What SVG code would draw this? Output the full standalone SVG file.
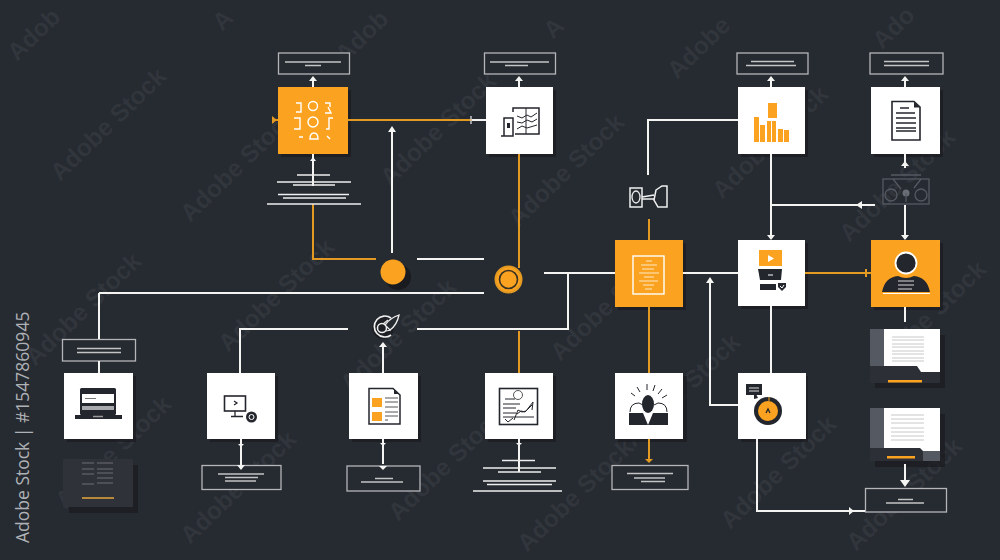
<svg xmlns="http://www.w3.org/2000/svg" width="1000" height="560" viewBox="0 0 1000 560">
<style>
.wm{font-family:"Liberation Sans",Arial,sans-serif;font-weight:700;font-size:24.500px;fill:#31353c}
.w{fill:none;stroke:#f4f4f2;stroke-width:2}
.o{fill:none;stroke:#e39a22;stroke-width:2}
.box{fill:#262a31;stroke:#b5b6b8;stroke-width:1.3}
.tl{stroke:#c4c4c4;stroke-width:1.3;fill:none}
.tlw{stroke:#eeeeee;stroke-width:1.5;fill:none}
.card{fill:#fff}
.org{fill:#fba320}
.sh{fill:#191b20;opacity:.7}
.ik{fill:none;stroke:#23262d;stroke-width:1.5}
.ikt{fill:none;stroke:#23262d;stroke-width:1}
.ikw{fill:none;stroke:#fff;stroke-width:1.4}
.dk{fill:#23262d}
.pn{fill:#2c2f36}
.hw{fill:#f4f4f2}
.ho{fill:#e39a22}
</style>
<rect width="1000" height="560" fill="#262a31"/>
<g id="watermarks">
<text class="wm" transform="translate(60 182) rotate(-44)">Adobe Stock</text>
<text class="wm" transform="translate(190 223) rotate(-44)">Adobe Stock</text>
<text class="wm" transform="translate(390 187) rotate(-44)">Adobe Stock</text>
<text class="wm" transform="translate(518 228) rotate(-44)">Adobe Stock</text>
<text class="wm" transform="translate(722 200) rotate(-44)">Adobe Stock</text>
<text class="wm" transform="translate(849 243) rotate(-44)">Adobe Stock</text>
<text class="wm" transform="translate(35 367) rotate(-44)">Adobe Stock</text>
<text class="wm" transform="translate(228 353) rotate(-44)">Adobe Stock</text>
<text class="wm" transform="translate(350 393) rotate(-44)">Adobe Stock</text>
<text class="wm" transform="translate(560 362) rotate(-44)">Adobe Stock</text>
<text class="wm" transform="translate(634 448) rotate(-44)">Adobe Stock</text>
<text class="wm" transform="translate(880 375) rotate(-44)">Adobe Stock</text>
<text class="wm" transform="translate(65 510) rotate(-44)">Adobe Stock</text>
<text class="wm" transform="translate(190 545) rotate(-44)">Adobe Stock</text>
<text class="wm" transform="translate(398 522) rotate(-44)">Adobe Stock</text>
<text class="wm" transform="translate(527 553) rotate(-44)">Adobe Stock</text>
<text class="wm" transform="translate(730 530) rotate(-44)">Adobe Stock</text>
<text class="wm" transform="translate(856 552) rotate(-44)">Adobe Stock</text>
<text class="wm" transform="translate(17 62) rotate(-44)">Adob</text>
<text class="wm" transform="translate(222 32) rotate(-44)">A</text>
<text class="wm" transform="translate(345 64) rotate(-44)">Adob</text>
<text class="wm" transform="translate(553 40) rotate(-44)">A</text>
<text class="wm" transform="translate(677 80) rotate(-44)">Adobe</text>
<text class="wm" transform="translate(882 50) rotate(-44)">Ado</text>
</g>
<text transform="translate(29 543) rotate(-90)" font-family="'Open Sans','Noto Sans',sans-serif" font-size="17.500" fill="#aeb1b5">Adobe Stock | #1547860945</text>

<g id="label-1"><rect class="box" x="278.500" y="53" width="71" height="21"/><path class="tl" d="M285 62H341M305 65.500H321"/></g>
<g id="label-2"><rect class="box" x="484.500" y="53" width="71" height="21"/><path class="tl" d="M490 62H549M505 65.500H528"/></g>
<g id="label-3"><rect class="box" x="737" y="53" width="71" height="21"/><path class="tl" d="M751 61.500H794M746 65.500H796"/></g>
<g id="label-4"><rect class="box" x="870" y="53" width="73" height="21"/><path class="tl" d="M884 61.500H929M884 65.500H929"/></g>
<g id="label-5"><rect class="box" x="62.500" y="339.500" width="73" height="21.500"/><path class="tl" d="M77 348.500H121M77 352.500H121"/></g>
<g id="label-6"><rect class="box" x="202" y="465.500" width="79" height="24"/><path class="tl" d="M218 474H264M225 477.500H258M225 481H256"/></g>
<g id="label-7"><rect class="box" x="347" y="466" width="73" height="25"/><path class="tl" d="M375 478.500H393M361 482H403"/></g>
<g id="label-8"><rect class="box" x="612" y="465.500" width="76" height="24"/><path class="tl" d="M627 473.500H673M634 478H665M641 481.500H665"/></g>
<g id="label-9"><rect class="box" x="865.500" y="488.500" width="81" height="23.500"/><path class="tl" d="M898 499.500H913M886 503H924"/></g>

<g id="node-data">
<rect class="sh" x="281" y="90" width="70" height="67"/><rect class="org" x="278" y="87" width="70" height="67"/>
<g class="ikw"><circle cx="313" cy="106" r="4.500"/><circle cx="313" cy="122" r="5"/><path d="M296 103h5v9h-5M294 118h6v11h-6M325 103h5v4M325 113h6l-3-6M333 118h-4v11h-3M310 139q0-6 4-6t4 6zM299 137h4M327 136l3 3"/></g>
</g>
<g id="node-workflow">
<rect class="sh" x="489" y="90" width="67" height="67"/><rect class="card" x="486" y="87" width="67" height="67"/>
<path class="ik" d="M501 136H513V118H504V136M513 112V108H539V134H515"/><path class="ikt" d="M526 108V134M517 116l5 2 5-3 4 2 6-4M517 122l5 1 5-3 5 2 5-3M517 129l5-3 5 2 10-3"/><rect class="dk" x="507" y="123" width="3" height="5"/>
</g>
<g id="node-chart">
<rect class="sh" x="741" y="90" width="67" height="67"/><rect class="card" x="738" y="87" width="67" height="67"/>
<path class="org" d="M754 117h5v25h-5zM760 125h5v17h-5zM767 121h4v21h-4zM772 121h4v21h-4zM778 129h5v13h-5zM784 130h5v12h-5z"/>
<rect class="org" x="768" y="103" width="9" height="15"/>
</g>
<g id="node-document">
<rect class="sh" x="874" y="90" width="69" height="67"/><rect class="card" x="871" y="87" width="69" height="67"/>
<path d="M892 101.500H914L920 107V140H892Z" fill="#fff" stroke="#23262d" stroke-width="1.600"/><path class="dk" d="M914 101.500l6 6h-6z"/>
<path class="ikt" d="M900 108H909M896 113H915M896 118H916M896 123H916M896 128H916M896 131H916" style="stroke-width:1.300"/>
</g>
<g id="node-report">
<rect class="sh" x="618" y="243" width="68" height="67"/><rect class="org" x="615" y="240" width="68" height="67"/>
<rect class="ikw" x="633" y="256" width="31" height="38"/>
<path d="M646 261H652M641 265H657M642 269H654M639 273H659M644 277H654M639 281H658M643 285H654M645 289H652" fill="none" stroke="#ffe9c4" stroke-width="1"/>
</g>
<g id="node-video">
<rect class="sh" x="741" y="243" width="67" height="66"/><rect class="card" x="738" y="240" width="67" height="66"/>
<rect class="org" x="759" y="250" width="23" height="16"/><path fill="#fff" d="M768 255v7l6-3.500z"/>
<path class="dk" d="M758 269H782L781 280H760Z"/><rect class="dk" x="760" y="284" width="16" height="6"/><path stroke="#fff" d="M768 275H773"/>
<path class="dk" d="M778 283h8v4l-4 4-4-4z"/><path d="M780 286l2 2 2-3" stroke="#fff" fill="none" stroke-width="1"/>
</g>
<g id="node-person">
<rect class="sh" x="874" y="243" width="69" height="67"/><rect class="org" x="871" y="240" width="69" height="67"/>
<circle cx="906" cy="263" r="10.500" fill="#23262d" stroke="#fff" stroke-width="1.800"/>
<path class="dk" d="M882 292Q885 277 898 276Q906 280 914 276Q927 277 930 292Z"/><path d="M883 293.500H930" stroke="#fff" stroke-width="1.200"/>
<path stroke="#d9d9d9" stroke-width="1" fill="none" d="M898 281H914M898 285H914M898 289H912"/>
</g>
<g id="node-laptop">
<rect class="sh" x="67" y="376" width="69" height="66"/><rect class="card" x="64" y="373" width="69" height="66"/>
<rect class="dk" x="80" y="388" width="36" height="27" rx="1.500"/><rect fill="#fff" x="82" y="394" width="32" height="9"/><rect fill="#a7a9ac" x="82" y="406" width="32" height="4"/><path class="dk" d="M75 415H122V419H75Z"/><path d="M85 398.500H96" stroke="#777" stroke-width="1"/><path d="M93 416.500H103" stroke="#999" stroke-width="1.500"/>
</g>
<g id="node-terminal">
<rect class="sh" x="210" y="376" width="68" height="66"/><rect class="card" x="207" y="373" width="68" height="66"/>
<rect x="224.500" y="396" width="21" height="15" fill="#fff" stroke="#23262d" stroke-width="1.600"/><path class="ikt" d="M234 401l3 2-3 2M235 411V416M231 416.500H243" style="stroke-width:1.300"/><circle cx="251.500" cy="417" r="5.500" class="dk"/><circle cx="251.500" cy="417" r="2.500" fill="none" stroke="#fff" stroke-width="1"/>
</g>
<g id="node-form">
<rect class="sh" x="352" y="376" width="69" height="66"/><rect class="card" x="349" y="373" width="69" height="66"/>
<path d="M369 388.500H393L400 395V424H369Z" fill="#fff" stroke="#23262d" stroke-width="1.500"/>
<rect class="org" x="372" y="398" width="10" height="9"/><rect class="org" x="372" y="412" width="10" height="9"/>
<path fill="none" stroke="#555" stroke-width="1" d="M385 398H398M385 402H398M385 407H398M385 412H398M385 416H398M385 420H388"/><path class="dk" d="M394 389l5 5h-5z"/>
</g>
<g id="node-analytics">
<rect class="sh" x="488" y="376" width="68" height="66"/><rect class="card" x="485" y="373" width="68" height="66"/>
<rect x="499.500" y="388.500" width="38" height="36" fill="#fff" stroke="#23262d" stroke-width="1.600"/>
<circle cx="518" cy="395" r="4.500" fill="#fff" stroke="#555" stroke-width="1"/>
<path class="ikt" d="M505 399H515M503 404H520M503 408H516M503 413H516M503 417H534M505 419l3 3 5-4M514 420l4-10 4 2 4-1 7-9-1 8M517 414l4-3 4 1 7-7"/>
</g>
<g id="node-leader">
<rect class="sh" x="618" y="376" width="69" height="66"/><rect class="card" x="615" y="373" width="68" height="66"/>
<path class="dk" d="M629 413H643L648 425L653 413H668V425H629Z"/><ellipse class="dk" cx="648" cy="404" rx="6" ry="9"/>
<path d="M630 412Q630 403 639 403L643 405M667 412Q667 403 658 403L654 405M635 396l-4-3M640 392l-3-5M647 390v-6M653 391l2-6M658 394l4-5M662 398l5-3" fill="none" stroke="#23262d" stroke-width="1"/>
</g>
<g id="node-target">
<rect class="sh" x="741" y="376" width="67" height="66"/><rect class="card" x="738" y="373" width="68" height="66"/>
<rect class="dk" x="746" y="384" width="16" height="11"/><path stroke="#ddd" stroke-width="1" d="M749 388H759M749 391H759"/><path class="dk" d="M754 394v5l4-1-2-4z"/>
<circle cx="768" cy="411" r="14" class="dk"/><circle cx="768" cy="411" r="10" class="org"/><path stroke="#23262d" stroke-width="1.300" fill="none" d="M766 413l2-4 2 4"/><path stroke="#fba320" stroke-width="1" d="M769 397V401"/>
</g>
<g id="node-ring">
<circle cx="508.500" cy="279.500" r="13" fill="#fba320" stroke="#e39a22" stroke-width="2"/><circle cx="508.500" cy="279.500" r="9" fill="#fba320" stroke="#3a3224" stroke-width="1.600"/>
</g>
<g id="node-dot">
<circle cx="398" cy="277" r="13" fill="#191b20"/><circle cx="393" cy="272" r="12.500" class="org"/>
</g>
<g id="icon-rocket">
<circle cx="383" cy="328" r="11" fill="#1d1f24"/><path fill="none" stroke="#efefef" stroke-width="1.700" d="M391 318A10.500 10.500 0 1 0 391 335"/><circle cx="382" cy="328" r="4.500" fill="none" stroke="#efefef" stroke-width="1.500"/><path fill="#262a31" stroke="#efefef" stroke-width="1.300" d="M385 325Q390 318 399 315Q397 325 390 330Z"/><path fill="none" stroke="#efefef" stroke-width="1.200" d="M386 331l5-1M383 324l5-4"/>
</g>
<g id="icon-link">
<path fill="none" stroke="#f0f0f0" stroke-width="1.500" d="M630 188H642V207H630ZM656 190L662 186H667V207H658L654 200ZM642 197L654 195M642 199H655"/><ellipse cx="636" cy="197" rx="4" ry="6" fill="none" stroke="#f0f0f0" stroke-width="1.300"/>
</g>
<g id="icon-gear" fill="none" stroke="#555962" stroke-width="1.300">
<rect x="883" y="179" width="46" height="25"/><circle cx="891" cy="195" r="6"/><circle cx="921" cy="195" r="6"/><path d="M893 179l8 10M921 179l-7 9M891 175H921"/><circle cx="906" cy="193" r="3.500" fill="#6a6e76" stroke="none"/><path d="M906 193v9"/>
</g>
<g id="node-doc-a">
<rect class="sh" x="875" y="335" width="70" height="53"/><rect fill="#555962" x="870" y="329" width="14" height="38"/><rect fill="#fff" x="884" y="329" width="56" height="43"/><path class="pn" d="M870 366H917L921 372H940V383H870Z"/>
<path stroke="#c8c8c8" stroke-width="1" d="M892 337H924M892 340H924M892 344H924M892 347H924M892 351H924M892 354H924M892 358H924M892 361H924"/>
<rect class="org" x="888" y="380" width="34" height="2.500"/>
</g>
<g id="node-doc-b">
<rect class="sh" x="875" y="414" width="70" height="53"/><rect fill="#555962" x="870" y="408" width="14" height="53"/><rect fill="#fff" x="884" y="408" width="56" height="43"/><rect fill="#555962" x="923" y="451" width="17" height="10"/><path class="pn" d="M870 448H920L923 451V461H870Z"/>
<path stroke="#c8c8c8" stroke-width="1" d="M891 415H924M891 419H924M891 423H924M891 428H924M891 432H924M891 436H924M891 440H924"/>
<rect class="org" x="887" y="456" width="28" height="2.500"/>
</g>
<g id="node-doc-faint">
<rect class="sh" x="69" y="465" width="69" height="48"/><rect fill="#2f3238" x="63" y="459" width="70" height="48"/>
<path stroke="#6d7076" stroke-width="1" d="M82 463H94M97 463H113M82 469H94M97 469H113M82 474H94M97 473H113M97 478H113M82 484H94M97 483H113"/>
<rect fill="#b68a3a" x="82" y="497" width="32" height="2"/>
</g>

<g id="connectors">
<path class="o" d="M348 120H472M272 120H278M313 204V259H376M519 154V268M519 331V373M649 219V240M649 307V373M649 439V460M805 273H871"/>
<path class="w" d="M313 87V78M519 87V78M771 87V78M905 87V78M472 120H486M392 253V130M313 154V186M99 293H484M99 293V339M99 361V373M417 259H484M544 273H615M683 273H738M568 273V329H417M348 329H240V373M383 373V346M648 175V120H738M771 154V237M771 205H875M905 154V168M905 205V237M771 306V373M710 281V405H738M757 439V511H865M905 307V322M905 464V483M241 439V469M383 439V464M519 439V472"/>
<path class="hw" d="M313 76l-4 5h8zM519 76l-4 5h8zM771 76l-4 5h8zM905 76l-4 5h8zM392 126l-4 6h8zM383 342l-4 5h8zM710 277l-4 6h8zM771 240l-4-5h8zM905 240l-4-5h8zM905 161l-4 5h8zM905 487l-5-7h10zM241 470l-4-5h8zM241 447l-3-3h6zM383 470l-4-4h8zM383 446l-3-3h6zM519 446l-3-3h6zM313 157l-3 4h6zM856 205l6-4v8zM854 511l-5-4v8z"/>
<path class="ho" d="M649 463l-4-4h8zM272 116v8l5-4zM865 269h2v8h-2z"/>
<path d="M471 116v8" stroke="#c9c9c9" stroke-width="1.500"/>
<path class="tlw" d="M297 175H330M277 182H351M293 185H335M278 194.500H349M283 198H346M267 204H361M502 460.500H535M483 468H556M498 472H541M483 481H556M487 484.500H552M473 491H562"/>
</g>
</svg>
